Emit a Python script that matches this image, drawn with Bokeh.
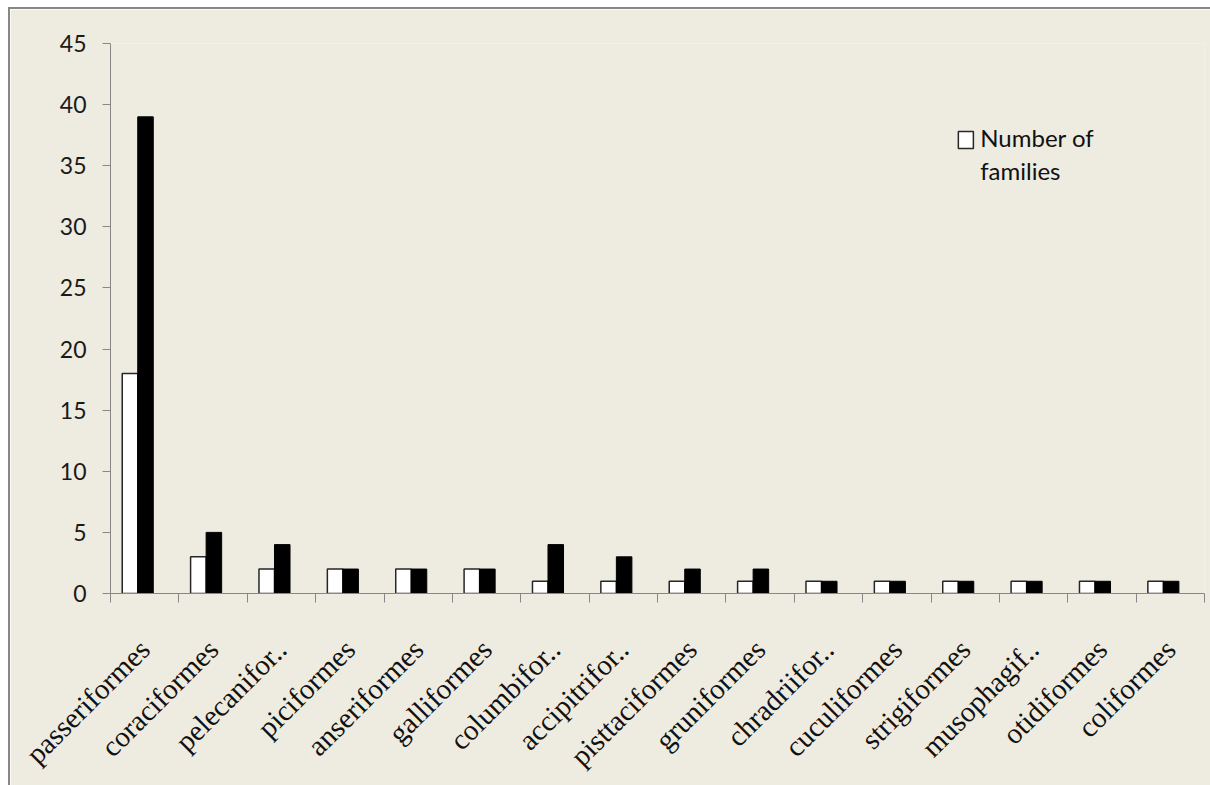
import math
from bokeh.plotting import figure
from bokeh.models import (Range1d, FixedTicker, BoxAnnotation, Label)
from bokeh.transform import dodge
from bokeh.embed import file_html
from bokeh.resources import INLINE

# ---- data ----
orders = ["passeriformes", "coraciformes", "pelecanifor..", "piciformes",
          "anseriformes", "galliformes", "columbifor..", "accipitrifor..",
          "pisttaciformes", "gruniformes", "chradriifor..", "cuculiformes",
          "strigiformes", "musophagif..", "otidiformes", "coliformes"]
families = [18, 3, 2, 2, 2, 2, 1, 1, 1, 1, 1, 1, 1, 1, 1, 1]
species = [39, 5, 4, 2, 2, 2, 4, 3, 2, 2, 1, 1, 1, 1, 1, 1]
y_ticks = [0, 5, 10, 15, 20, 25, 30, 35, 40, 45]
legend_label = ["Number of", "families"]

BG = "#EEEBE0"
AXIS = "#878787"

n = len(orders)
idx = list(range(n))

p = figure(x_range=Range1d(-0.5, n - 0.5), y_range=Range1d(0, 45),
           frame_width=1094, frame_height=550,
           min_border_left=100, min_border_right=6, min_border_top=34,
           min_border_bottom=192,
           output_backend="svg", toolbar_location=None,
           background_fill_color=BG,
           border_fill_color=BG, outline_line_color=None)
p.styles = {"margin-left": "8px", "margin-top": "7px",
            "border-left": f"2px solid {AXIS}", "border-top": f"2px solid {AXIS}"}
p.grid.visible = False

src = dict(i=idx, cat=orders, fam=families, spe=species)
p.vbar(x=dodge("i", -0.215), top="fam", width=0.227,
       source=src, fill_color="white", line_color="#262626", line_width=1.5)
p.vbar(x=dodge("i", 0.012), top="spe", width=0.227,
       source=src, fill_color="black", line_color="black", line_width=1)

# y axis
ya = p.yaxis[0]
ya.ticker = FixedTicker(ticks=y_ticks)
ya.axis_line_color = AXIS
ya.major_tick_line_color = AXIS
ya.major_tick_out = 8
ya.major_tick_in = 0
ya.minor_tick_line_color = None
ya.major_label_text_font = "Lato"
ya.major_label_text_font_size = "23px"
ya.major_label_text_color = "#1a1a1a"
ya.major_label_standoff = 16

# x axis: labels at centres, ticks between categories
xa = p.xaxis[0]
xa.ticker = FixedTicker(ticks=idx, minor_ticks=[i - 0.5 for i in range(n + 1)])
xa.major_label_overrides = {i: name for i, name in zip(idx, orders)}
xa.major_label_orientation = math.pi / 4
xa.axis_line_color = AXIS
xa.major_tick_line_color = None
xa.minor_tick_line_color = AXIS
xa.minor_tick_out = 9
xa.minor_tick_in = 0
xa.major_label_text_font = "Liberation Serif"
xa.major_label_text_font_size = "29px"
xa.major_label_text_color = "#111111"
xa.major_label_standoff = 42

# legend (only the white series is listed)
p.add_layout(BoxAnnotation(left=11.90, right=12.12, top=37.8, bottom=36.4,
                           fill_color="white", fill_alpha=1,
                           line_color="#262626", line_width=1.5, line_alpha=1))
for txt, yy in zip(legend_label, [37.3, 34.6]):
    p.add_layout(Label(x=12.22, y=yy, text=txt,
                       text_font="Lato", text_font_size="24px",
                       text_color="#111111", text_baseline="alphabetic"))

open("out.html", "w").write(file_html(p, INLINE))
